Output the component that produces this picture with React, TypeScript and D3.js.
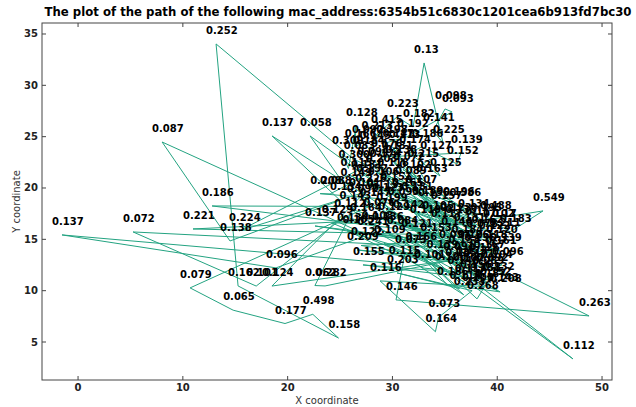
import React from "react";
import * as d3 from "d3";

// Path of one device, in visit order: x / y coordinates and the value annotated at each stop.
const pathX = [
  30.6, -1.53, 18.89, 27.6, 8.02, 14.5, 25.0, 18.51, 26.0, 35.4,
  5.25, 17.0, 25.4, 26.9, 10.97, 35.6, 12.79, 27.8, 10.69, 14.8,
  19.75, 22.4, 24.85, 15.27, 13.17, 26.3, 27.6, 15.36, 27.4, 18.5,
  35.8, 23.57, 22.6, 26.6, 22.14, 28.6, 25.19, 25.8, 26.53, 26.4,
  27.1, 27.8, 28.91, 28.0, 30.44, 31.97, 33.02, 34.83, 33.87, 35.02,
  35.69, 31.4, 29.4, 28.9, 36.55, 36.16, 32.8, 31.6, 34.54, 33.6,
  32.4, 33.2, 30.3, 30.6, 27.0, 24.05, 23.1, 35.78, 34.6, 31.2,
  29.0, 36.0, 28.4, 37.2, 36.4, 29.5, 39.31, 40.46, 41.22, 44.37,
  38.4, 31.0, 39.6, 29.8, 36.8, 32.2, 40.2, 31.8, 38.0, 30.5,
  39.2, 33.4, 33.8, 34.6, 36.6, 28.2, 37.8, 25.67, 38.9, 22.61,
  39.8, 29.6, 40.27, 31.0, 37.0, 26.62, 38.2, 48.76, 30.34, 31.2,
  39.4, 40.46, 32.6, 36.2, 47.23, 37.4, 29.0, 38.6, 27.19, 39.6,
  30.4, 36.4, 30.44, 37.6, 34.4, 34.1, 28.82, 38.8, 38.07, 31.8,
  40.27, 35.2, 32.2, 36.8, 29.2, 40.0, 33.6, 27.0, 34.2, 26.2,
  33.0, 35.0, 24.2, 37.9, 27.5, 38.7, 28.8, 36.0, 26.8, 39.0,
  29.9, 37.2, 25.9, 36.9, 28.0, 30.9, 38.3, 27.2, 39.9, 29.4,
  36.3, 31.6, 37.7, 30.0, 35.5, 26.0, 38.5, 32.8, 36.7, 28.5,
  39.3,
];

const pathY = [
  12.6, 15.43, 12.22, 15.4, 24.48, 14.84, 18.8, 25.07, 20.2, 14.2,
  15.72, 10.45, 17.2, 16.8, 16.01, 15.4, 18.25, 18.2, 10.27, 8.1,
  6.8, 7.7, 5.39, 10.46, 34.03, 22.8, 22.2, 15.82, 19.6, 10.45,
  13.0, 10.46, 10.5, 18.6, 25.07, 20.3, 23.32, 21.9, 26.04, 24.0,
  24.39, 23.8, 25.36, 24.8, 26.92, 25.94, 32.18, 24.39, 25.56, 27.7,
  27.41, 25.0, 24.4, 23.0, 23.41, 22.34, 24.0, 23.4, 21.17, 22.8,
  22.0, 20.6, 22.4, 23.9, 21.0, 19.42, 19.45, 18.35, 18.0, 20.4,
  18.7, 16.6, 21.6, 17.2, 18.2, 21.2, 16.99, 16.21, 15.72, 17.77,
  16.8, 21.8, 16.2, 19.8, 15.8, 19.5, 15.3, 18.8, 15.2, 18.3,
  15.0, 18.2, 17.0, 16.2, 14.6, 17.3, 13.9, 15.82, 14.2, 16.3,
  13.6, 16.9, 13.87, 17.1, 12.6, 13.97, 12.9, 7.54, 9.1, 13.68,
  12.2, 12.51, 16.6, 11.6, 3.35, 11.2, 15.9, 11.6, 12.51, 11.0,
  15.5, 10.2, 11.73, 10.0, 7.4, 6.0, 10.95, 10.4, 9.2, 15.2,
  9.88, 10.6, 14.0, 9.6, 14.6, 10.0, 14.8, 14.4, 13.2, 15.6,
  12.2, 12.0, 16.6, 16.4, 20.6, 13.2, 22.0, 12.4, 19.2, 11.9,
  22.8, 14.2, 18.0, 10.8, 16.0, 19.2, 10.9, 23.3, 14.6, 17.8,
  13.7, 21.0, 12.3, 24.0, 16.8, 21.2, 15.6, 18.4, 11.9, 19.0,
  10.6,
];

const pathLabels = [
  "0.115", "0.137", "0.096", "0.241", "0.087", "0.138", "0.134", "0.137", "0.149", "0.097",
  "0.072", "0.101", "0.112", "0.164", "0.221", "0.144", "0.186", "0.147", "0.079", "0.065",
  "0.177", "0.498", "0.158", "0.162", "0.252", "0.083", "0.094", "0.224", "0.226", "0.124",
  "0.091", "0.282", "0.062", "0.092", "0.058", "0.106", "0.309", "0.300", "0.128", "0.166",
  "0.092", "0.145", "0.415", "0.213", "0.223", "0.182", "0.13", "0.225", "0.141", "0.098",
  "0.093", "0.192", "0.198", "0.176", "0.139", "0.152", "0.186", "0.174", "0.125", "0.127",
  "0.215", "0.163", "0.138", "0.113", "0.131", "0.088", "0.208", "0.196", "0.157", "0.089",
  "0.123", "0.133", "0.203", "0.134", "0.586", "0.118", "0.488", "0.17", "0.183", "0.549",
  "0.195", "0.072", "0.102", "0.151", "0.131", "0.107", "0.211", "0.181", "0.078", "0.095",
  "0.122", "0.156", "0.105", "0.117", "0.184", "0.076", "0.136", "0.134", "0.118", "0.137",
  "0.161", "0.129", "0.339", "0.142", "0.173", "0.209", "0.126", "0.263", "0.146", "0.073",
  "0.104", "0.096", "0.119", "0.148", "0.112", "0.156", "0.136", "0.089", "0.155", "0.132",
  "0.084", "0.114", "0.203", "0.201", "0.073", "0.164", "0.116", "0.187", "0.268", "0.121",
  "0.208", "0.186", "0.166", "0.233", "0.109", "0.143", "0.153", "0.122", "0.139", "0.105",
  "0.101", "0.128", "0.129", "0.117", "0.152", "0.167", "0.174", "0.135", "0.101", "0.092",
  "0.131", "0.126", "0.143", "0.117", "0.108", "0.165", "0.138", "0.184", "0.120", "0.199",
  "0.158", "0.102", "0.171", "0.147", "0.123", "0.115", "0.162", "0.189", "0.107", "0.113",
  "0.152",
];

const xTicks = [0, 10, 20, 30, 40, 50];
const yTicks = [5, 10, 15, 20, 25, 30, 35];

const macAddress = "6354b51c6830c1201cea6b913fd7bc30";

const W = 636;
const H = 407;
const plot = { left: 42, right: 612, top: 23, bottom: 380 };

const font = "'DejaVu Sans', Verdana, sans-serif";

export default function App() {
  const x = d3.scaleLinear().domain([-3.44, 50.95]).range([plot.left, plot.right]);
  const y = d3.scaleLinear().domain([1.3, 36.07]).range([plot.bottom, plot.top]);

  const pts: [number, number][] = pathX.map((v, i) => [v, pathY[i]]);
  const line = d3
    .line<[number, number]>()
    .x((d) => x(d[0]))
    .y((d) => y(d[1]));

  return (
    <svg
      width={W}
      height={H}
      viewBox={`0 0 ${W} ${H}`}
      style={{ position: "absolute", left: 0, top: 0, background: "#fff" }}
      fontFamily={font}
    >
      <rect x={0} y={0} width={W} height={H} fill="#fff" />

      <text
        x={338}
        y={16}
        textAnchor="middle"
        fontSize={11.5}
        fontWeight="bold"
        fill="#000"
        textLength={587}
        lengthAdjust="spacingAndGlyphs"
      >
        {`The plot of the path of the following mac_address:${macAddress}`}
      </text>

      <defs>
        <clipPath id="plot-area">
          <rect
            x={plot.left}
            y={plot.top}
            width={plot.right - plot.left}
            height={plot.bottom - plot.top}
          />
        </clipPath>
      </defs>

      <path
        d={line(pts) || ""}
        fill="none"
        stroke="#23a381"
        strokeWidth={1}
        strokeLinejoin="miter"
        clipPath="url(#plot-area)"
      />

      <g fontSize={10} fontWeight="bold" fill="#000">
        {pts.map((d, i) => (
          <text key={i} x={x(d[0]) - 10} y={y(d[1]) - 10}>
            {pathLabels[i]}
          </text>
        ))}
      </g>

      {/* frame */}
      <rect
        x={plot.left}
        y={plot.top}
        width={plot.right - plot.left}
        height={plot.bottom - plot.top}
        fill="none"
        stroke="#444"
        strokeWidth={1}
      />

      {/* ticks, pointing inward on all four sides */}
      <g stroke="#444" strokeWidth={1}>
        {xTicks.map((t) => (
          <g key={`xt${t}`}>
            <line x1={x(t)} x2={x(t)} y1={plot.bottom} y2={plot.bottom - 4} />
            <line x1={x(t)} x2={x(t)} y1={plot.top} y2={plot.top + 4} />
          </g>
        ))}
        {yTicks.map((t) => (
          <g key={`yt${t}`}>
            <line x1={plot.left} x2={plot.left + 4} y1={y(t)} y2={y(t)} />
            <line x1={plot.right} x2={plot.right - 4} y1={y(t)} y2={y(t)} />
          </g>
        ))}
      </g>

      <g fontSize={10} fontWeight="bold" fill="#222">
        {xTicks.map((t) => (
          <text key={`xl${t}`} x={x(t)} y={391} textAnchor="middle">
            {t}
          </text>
        ))}
        {yTicks.map((t) => (
          <text key={`yl${t}`} x={38} y={y(t) + 3.5} textAnchor="end">
            {t}
          </text>
        ))}
      </g>

      <text x={327} y={404} textAnchor="middle" fontSize={10} fill="#333">
        X coordinate
      </text>
      <text
        transform={`translate(20, ${(plot.top + plot.bottom) / 2}) rotate(-90)`}
        textAnchor="middle"
        fontSize={10}
        fill="#333"
      >
        Y coordinate
      </text>
    </svg>
  );
}
